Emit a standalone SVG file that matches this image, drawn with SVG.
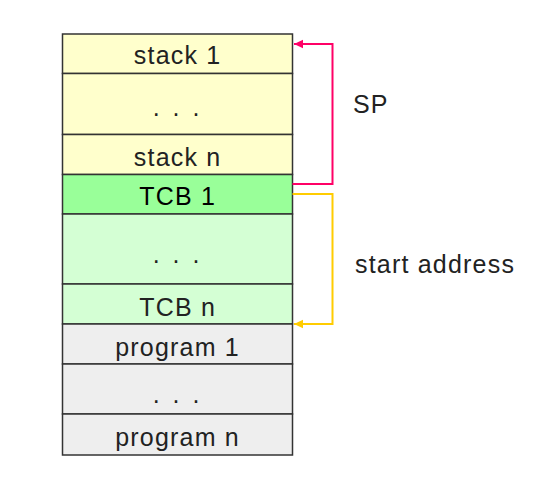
<svg xmlns="http://www.w3.org/2000/svg" width="558" height="503" viewBox="0 0 558 503">
<style>
.cell{stroke:#333;stroke-width:1.5}
.st{fill:#FFFFCC}
.tcb1{fill:#99FF99}
.tcb{fill:#D4FFD4}
.pg{fill:#EEEEEE}
text{font-family:"Liberation Sans",Arial,sans-serif;font-size:25px;letter-spacing:1.2px;fill:#222;text-anchor:middle}
.lbl{text-anchor:start}
.conn{fill:none;stroke-width:2}
</style>
<defs>
<marker id="ahPink" markerUnits="userSpaceOnUse" markerWidth="10" markerHeight="10" viewBox="0 0 10 10" refX="9" refY="5" orient="auto">
<path d="M0,0.8 L9,5 L0,9.2 Z" fill="#FF0066"/>
</marker>
<marker id="ahYellow" markerUnits="userSpaceOnUse" markerWidth="10" markerHeight="10" viewBox="0 0 10 10" refX="9" refY="5" orient="auto">
<path d="M0,0.8 L9,5 L0,9.2 Z" fill="#FFCC00"/>
</marker>
</defs>
<rect width="558" height="503" fill="#fff"/>
<g id="stack1"><rect class="cell st" x="62.5" y="34" width="230" height="39.5"/><text x="177.6" y="64">stack 1</text></g>
<g id="stackdots"><rect class="cell st" x="62.5" y="73.5" width="230" height="61"/><text x="177.6" y="115.5" style="letter-spacing:3px">. . .</text></g>
<g id="stackn"><rect class="cell st" x="62.5" y="134.5" width="230" height="40"/><text x="177.6" y="165.5">stack n</text></g>
<g id="tcb1"><rect class="cell tcb1" x="62.5" y="174.5" width="230" height="39.5"/><text x="177.6" y="205" style="fill:#000">TCB 1</text></g>
<g id="tcbdots"><rect class="cell tcb" x="62.5" y="214" width="230" height="70"/><text x="177.6" y="263" style="letter-spacing:3px">. . .</text></g>
<g id="tcbn"><rect class="cell tcb" x="62.5" y="284" width="230" height="40"/><text x="177.6" y="315.5">TCB n</text></g>
<g id="program1"><rect class="cell pg" x="62.5" y="324" width="230" height="40"/><text x="177.6" y="355.5">program 1</text></g>
<g id="programdots"><rect class="cell pg" x="62.5" y="364" width="230" height="50"/><text x="177.6" y="403" style="letter-spacing:3px">. . .</text></g>
<g id="programn"><rect class="cell pg" x="62.5" y="414" width="230" height="41"/><text x="177.6" y="446">program n</text></g>
<g id="connectors">
<path class="conn" d="M292.5,184 H332.5 V44 H294" stroke="#FF0066" marker-end="url(#ahPink)"/>
<path class="conn" d="M292.5,194 H332.5 V324 H294" stroke="#FFCC00" marker-end="url(#ahYellow)"/>
</g>
<g id="labels">
<text class="lbl" x="353" y="113">SP</text>
<text class="lbl" x="355" y="273">start address</text>
</g>
</svg>
